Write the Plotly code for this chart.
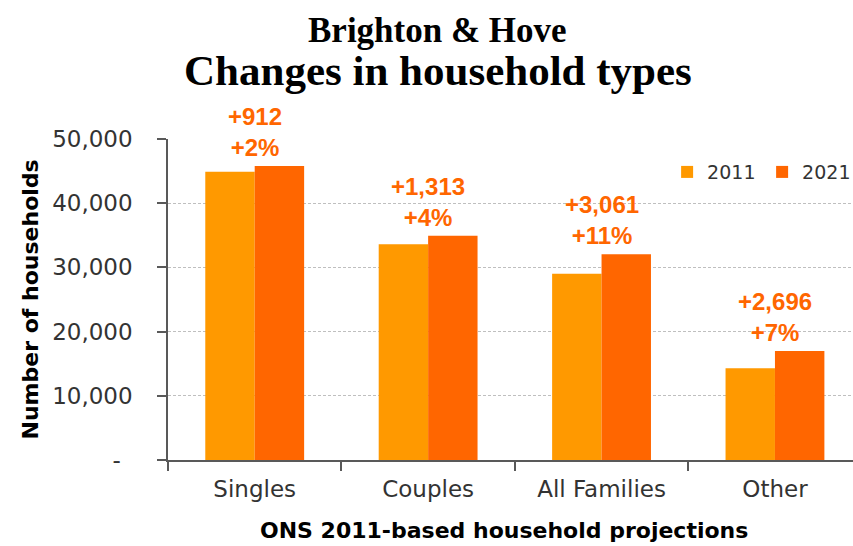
import plotly.graph_objects as go

categories = ["Singles", "Couples", "All Families", "Other"]
hh_2011 = [44900, 33600, 29000, 14300]
hh_2021 = [45812, 34913, 32061, 16996]
change_labels = ["+912", "+1,313", "+3,061", "+2,696"]
pct_labels = ["+2%", "+4%", "+11%", "+7%"]
y_tickvals = [0, 10000, 20000, 30000, 40000, 50000]
y_ticktext = ["-\u00a0\u2009", "10,000", "20,000", "30,000", "40,000", "50,000"]

C2011 = "#FF9900"
C2021 = "#FF6600"
TXT = "#333333"
AX = "#595959"

fig = go.Figure()
fig.add_trace(go.Bar(x=categories, y=hh_2011, name="2011", marker=dict(color=C2011, line=dict(width=0))))
fig.add_trace(go.Bar(x=categories, y=hh_2021, name="2021", marker=dict(color=C2021, line=dict(width=0))))

annotations = []
for cat, a, b, c, p in zip(categories, hh_2011, hh_2021, change_labels, pct_labels):
    annotations.append(dict(
        x=cat, y=max(a, b), xref="x", yref="y", text=f"{c}<br>{p}",
        showarrow=False, yanchor="bottom", yshift=3,
        font=dict(family="Liberation Sans, Arial, sans-serif", size=24, color=C2021, weight="bold"),
    ))

# titles (pixel positions converted to paper coords below)
annotations.append(dict(
    x=437, xref="paper", y=30, yref="paper", text="<b>Brighton &amp; Hove</b>", showarrow=False,
    font=dict(family="Liberation Serif, Times New Roman, serif", size=35, color="#000000"),
))
annotations.append(dict(
    x=438, xref="paper", y=70, yref="paper", text="<b>Changes in household types</b>", showarrow=False,
    font=dict(family="Liberation Serif, Times New Roman, serif", size=43, color="#000000"),
))
# axis titles
annotations.append(dict(
    x=0, xref="paper", xshift=-138, y=0.5, yref="paper", text="<b>Number of households</b>",
    textangle=-90, showarrow=False, xanchor="center", yanchor="middle",
    font=dict(family="DejaVu Sans, sans-serif", size=22, color="#000000"),
))
annotations.append(dict(
    x=0.5, xref="paper", xshift=-7, y=0, yref="paper", yshift=-70, yanchor="middle",
    text="<b>ONS 2011-based household projections</b>", showarrow=False,
    font=dict(family="DejaVu Sans, sans-serif", size=22, color="#000000"),
))

L, R, T, B = 168, 0, 139, 86
W, H = 853, 546
pw, ph = W - L - R, H - T - B
for ann in annotations[-4:-2]:
    ann["x"] = (ann["x"] - L) / pw
    ann["y"] = (H - B - ann["y"]) / ph
    ann["xanchor"] = "center"
    ann["yanchor"] = "middle"

fig.update_layout(
    width=W, height=H,
    margin=dict(l=L, r=R, t=T, b=B, autoexpand=False),
    paper_bgcolor="white", plot_bgcolor="white",
    barmode="group", bargap=0.43, bargroupgap=0,
    annotations=annotations,
    showlegend=True,
    legend=dict(
        orientation="h", x=1.006, xanchor="right", y=0.897, yanchor="middle",
        font=dict(family="DejaVu Sans, sans-serif", size=19, color=TXT),
        bgcolor="rgba(0,0,0,0)", itemwidth=30, traceorder="normal",
        entrywidth=50,
    ),
    font=dict(family="DejaVu Sans, sans-serif", color=TXT),
)
fig.update_xaxes(
    range=[-0.5, 3.45], showline=True, linecolor=AX, linewidth=1.5,
    ticks="outside", tickson="boundaries", ticklen=9, tickcolor=AX, tickwidth=1.5,
    tickfont=dict(family="DejaVu Sans, sans-serif", size=23, color=TXT),
    ticklabelstandoff=8, showgrid=False, fixedrange=True,
)
fig.update_yaxes(
    range=[0, 50000], tickvals=y_tickvals, ticktext=y_ticktext,
    showline=True, linecolor=AX, linewidth=1.5,
    ticks="outside", ticklen=9, tickcolor=AX, tickwidth=1.5,
    tickfont=dict(family="DejaVu Sans, sans-serif", size=23, color=TXT),
    ticklabelstandoff=20,
    showgrid=True, gridcolor="#BFBFBF", gridwidth=1, griddash="3px,2px",
    zeroline=False, fixedrange=True,
)

fig.write_html("out.html", config={"displayModeBar": False},
               post_script="document.body.style.margin='0';")
